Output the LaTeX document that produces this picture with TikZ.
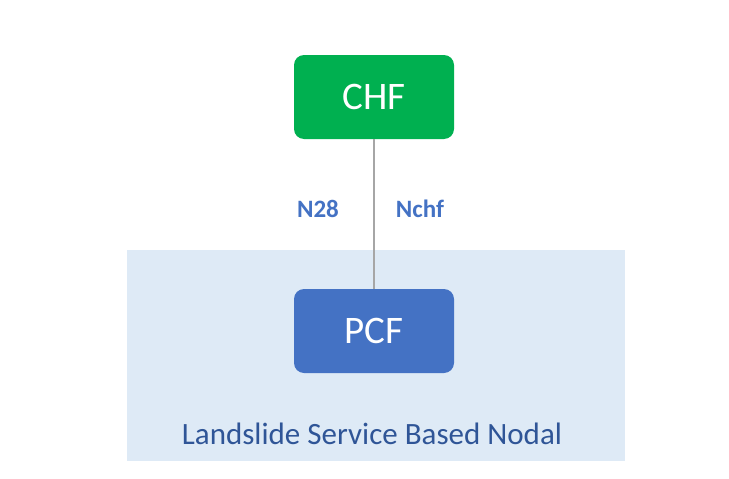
\documentclass[tikz,border=0pt]{standalone}
\usepackage{fontspec}
\setmainfont{Carlito}
\definecolor{chfgreen}{HTML}{00B050}
\definecolor{pcfblue}{HTML}{4472C4}
\definecolor{zonebg}{HTML}{DEEAF6}
\definecolor{zonetext}{HTML}{2F5597}
\tikzset{
 nf/.style={rounded corners=10pt,minimum width=160pt,minimum height=84pt,text=white,font=\fontsize{39}{42}\selectfont},
 iflabel/.style={text=pcfblue,font=\fontsize{25}{28}\selectfont\bfseries}
}
\begin{document}
\begin{tikzpicture}[x=1pt,y=-1pt]
 \useasboundingbox (0,0) rectangle (729,479);
 \fill[zonebg](127,250) rectangle (625,461);
 \node[nf,fill=chfgreen] (chf) at (374,97) {CHF};
 \node[nf,fill=pcfblue] (pcf) at (374,331) {PCF};
 \draw[gray!70,line width=1.2pt](chf) -- (pcf);
 \node[iflabel] (n28) at (318,209) {N28};
 \node[iflabel] (nchf) at (420,209) {Nchf};
 \node[text=zonetext,font=\fontsize{31}{34}\selectfont] (zone) at (372,434) {Landslide Service Based Nodal};
\end{tikzpicture}
\end{document}
